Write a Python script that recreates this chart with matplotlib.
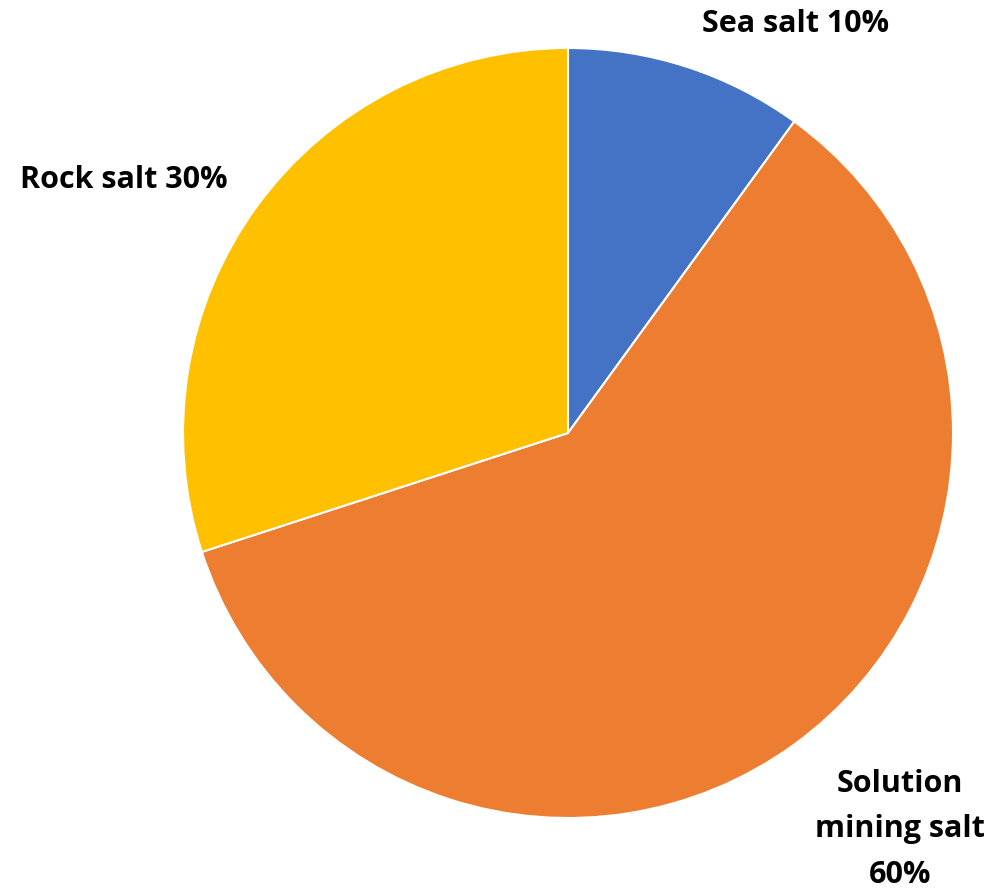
import matplotlib
matplotlib.use("Agg")
import matplotlib.pyplot as plt

labels = ["Sea salt 10%", "Solution\nmining salt\n60%", "Rock salt 30%"]
shares = [10, 60, 30]
colors = ["#4472C4", "#ED7D31", "#FFC000"]

# label anchor positions in pie units (radius = 1)
label_pos = [(0.59, 1.065), (0.862, -1.027), (-1.153, 0.66)]

W, H = 994, 895
cx, cy, r = 568, 434, 385

fig = plt.figure(figsize=(W / 100, H / 100), dpi=100)
ax = fig.add_axes([(cx - r) / W, (H - cy - r) / H, 2 * r / W, 2 * r / H])

ax.pie(shares, colors=colors, startangle=90, counterclock=False,
       wedgeprops=dict(edgecolor="white", linewidth=1.5), radius=1)
ax.set_xlim(-1, 1)
ax.set_ylim(-1, 1)
ax.set_aspect("equal")
ax.axis("off")

for text, (x, y) in zip(labels, label_pos):
    ax.text(x, y, text, ha="center", va="center", fontsize=22,
            fontweight="bold", family="Open Sans", linespacing=1.68)

fig.savefig("out.png", dpi=100)
